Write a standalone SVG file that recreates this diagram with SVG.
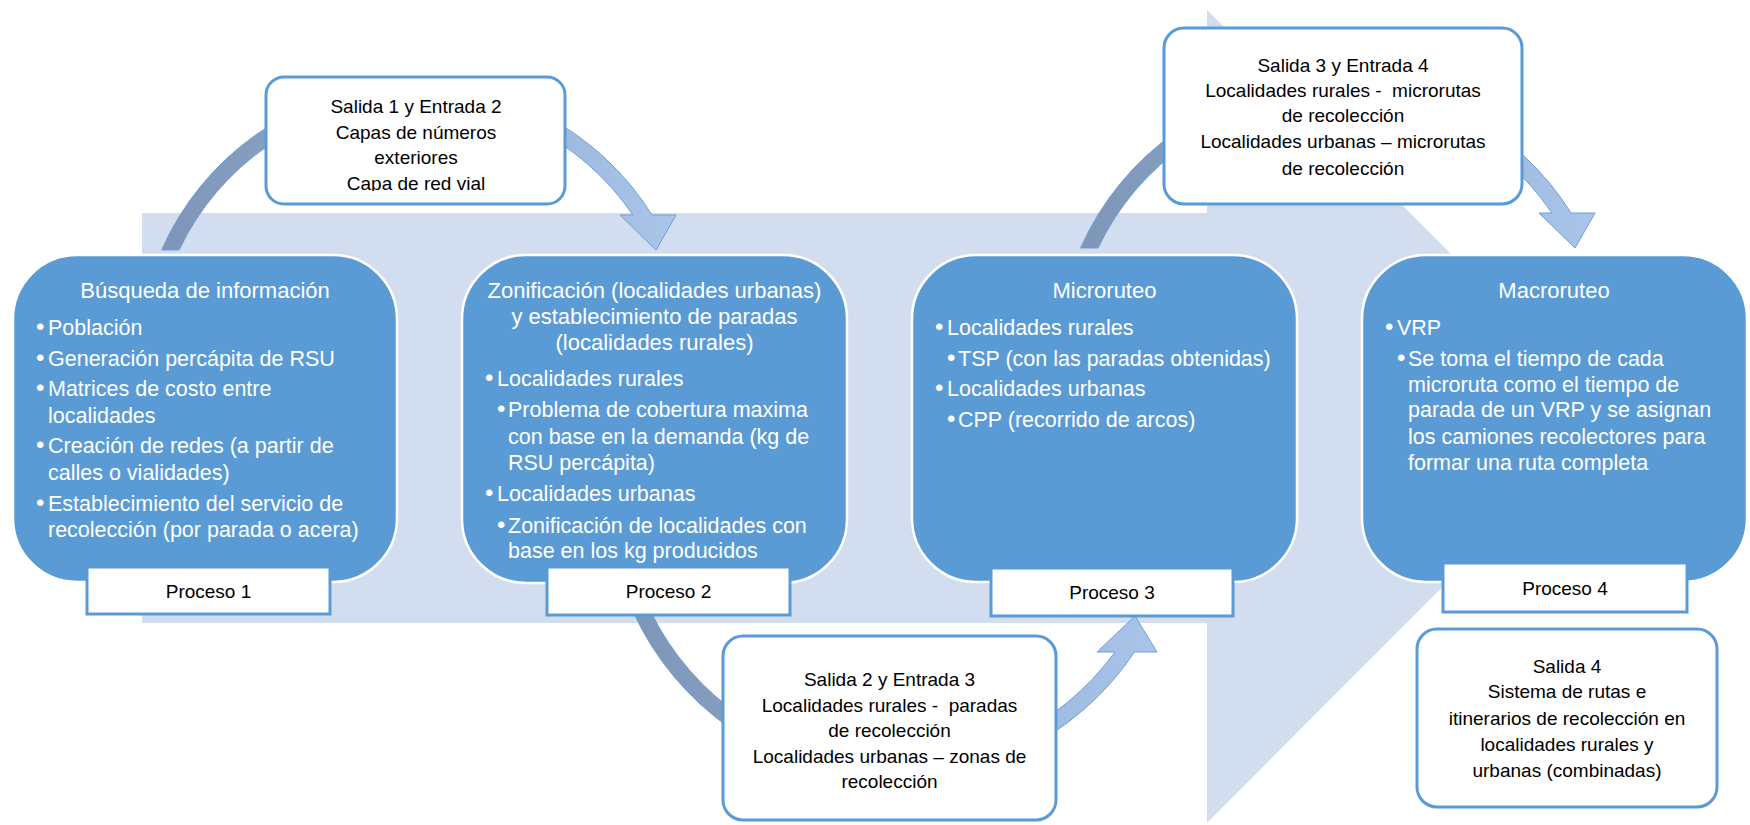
<svg xmlns="http://www.w3.org/2000/svg" width="1750" height="825" viewBox="0 0 1750 825">
<style>
.node{fill:#5B9BD5;stroke:#FFFFFF;stroke-width:2.5}
.lbl{fill:#FFFFFF;stroke:#5B9BD5;stroke-width:3}
.io{fill:#FFFFFF;stroke:#5B9BD5;stroke-width:3}
.arr{stroke:#6E9ED5;stroke-width:1}
text{font-family:"Liberation Sans",Arial,sans-serif}
.t{fill:#FFFFFF;font-size:21.5px}
.h{fill:#FFFFFF;font-size:22px;text-anchor:middle}
.p{fill:#000000;font-size:19px;text-anchor:middle}
.c{fill:#000000;font-size:19px;text-anchor:middle}
.b{font-size:24px}
</style>
<defs>
<linearGradient id="g1" gradientUnits="userSpaceOnUse" x1="160" y1="0" x2="680" y2="0">
<stop offset="0" stop-color="#7D95B6"/><stop offset="1" stop-color="#A9C5EA"/>
</linearGradient>
<linearGradient id="g2" gradientUnits="userSpaceOnUse" x1="630" y1="0" x2="1160" y2="0">
<stop offset="0" stop-color="#7D95B6"/><stop offset="1" stop-color="#A9C5EA"/>
</linearGradient>
<clipPath id="clipA"><rect x="266" y="77" width="299" height="114"/></clipPath>
</defs>

<polygon id="background-arrow" points="142,213 1207,213 1207,10 1613,416 1207,823 1207,623 142,623" fill="#D2DEEF"/>

<g id="connectors">
<path id="arrow-1-2" class="arr" fill="url(#g1)" d="M161.6,250 A278,278 0 0 1 652,215 L676,215 L656,250 L620,215 L632.9,215 A262,262 0 0 0 179.1,250 Z"/>
<path id="arrow-3-4" class="arr" fill="url(#g1)" transform="translate(919,-2)" d="M161.6,250 A278,278 0 0 1 652,215 L676,215 L656,250 L620,215 L632.9,215 A262,262 0 0 0 179.1,250 Z"/>
<path id="arrow-2-3" class="arr" fill="url(#g2)" d="M633.2,612 A288,288 0 0 0 1134.5,652 L1157,652 L1135,616 L1097,652 L1115,652 A272,272 0 0 1 650.9,612 Z"/>
</g>

<g id="proceso-1">
<rect class="node" x="13" y="255" width="384" height="327" rx="64"/>
<text class="h" x="205" y="298">Búsqueda de información</text>
<text class="t" x="36" y="335"><tspan class="b">•</tspan><tspan x="48">Población</tspan></text>
<text class="t" x="36" y="366"><tspan class="b">•</tspan><tspan x="48">Generación percápita de RSU</tspan></text>
<text class="t" x="36" y="396"><tspan class="b">•</tspan><tspan x="48">Matrices de costo entre</tspan></text>
<text class="t" x="48" y="423">localidades</text>
<text class="t" x="36" y="453"><tspan class="b">•</tspan><tspan x="48">Creación de redes (a partir de</tspan></text>
<text class="t" x="48" y="480">calles o vialidades)</text>
<text class="t" x="36" y="511"><tspan class="b">•</tspan><tspan x="48">Establecimiento del servicio de</tspan></text>
<text class="t" x="48" y="537">recolección (por parada o acera)</text>
<rect class="lbl" x="87" y="567" width="243" height="47"/>
<text class="p" x="208.5" y="598">Proceso 1</text>
</g>

<g id="proceso-2">
<rect class="node" x="462" y="255" width="385" height="328" rx="64"/>
<text class="h" x="654.5" y="298">Zonificación (localidades urbanas)</text>
<text class="h" x="654.5" y="324">y establecimiento de paradas</text>
<text class="h" x="654.5" y="350">(localidades rurales)</text>
<text class="t" x="485" y="386"><tspan class="b">•</tspan><tspan x="497">Localidades rurales</tspan></text>
<text class="t" x="497" y="417"><tspan class="b">•</tspan><tspan x="508">Problema de cobertura maxima</tspan></text>
<text class="t" x="508" y="444">con base en la demanda (kg de</text>
<text class="t" x="508" y="470">RSU percápita)</text>
<text class="t" x="485" y="501"><tspan class="b">•</tspan><tspan x="497">Localidades urbanas</tspan></text>
<text class="t" x="497" y="533"><tspan class="b">•</tspan><tspan x="508">Zonificación de localidades con</tspan></text>
<text class="t" x="508" y="558">base en los kg producidos</text>
<rect class="lbl" x="547" y="567" width="243" height="48"/>
<text class="p" x="668.5" y="598">Proceso 2</text>
</g>

<g id="proceso-3">
<rect class="node" x="912" y="255" width="385" height="327" rx="64"/>
<text class="h" x="1104.5" y="298">Microruteo</text>
<text class="t" x="935" y="335"><tspan class="b">•</tspan><tspan x="947">Localidades rurales</tspan></text>
<text class="t" x="947" y="366"><tspan class="b">•</tspan><tspan x="958">TSP (con las paradas obtenidas)</tspan></text>
<text class="t" x="935" y="396"><tspan class="b">•</tspan><tspan x="947">Localidades urbanas</tspan></text>
<text class="t" x="947" y="427"><tspan class="b">•</tspan><tspan x="958">CPP (recorrido de arcos)</tspan></text>
<rect class="lbl" x="991" y="568" width="242" height="48"/>
<text class="p" x="1112" y="599">Proceso 3</text>
</g>

<g id="proceso-4">
<rect class="node" x="1362" y="255" width="385" height="327" rx="64"/>
<text class="h" x="1554" y="298">Macroruteo</text>
<text class="t" x="1385" y="335"><tspan class="b">•</tspan><tspan x="1397">VRP</tspan></text>
<text class="t" x="1397" y="366"><tspan class="b">•</tspan><tspan x="1408">Se toma el tiempo de cada</tspan></text>
<text class="t" x="1408" y="392">microruta como el tiempo de</text>
<text class="t" x="1408" y="417">parada de un VRP y se asignan</text>
<text class="t" x="1408" y="444">los camiones recolectores para</text>
<text class="t" x="1408" y="470">formar una ruta completa</text>
<rect class="lbl" x="1443" y="563" width="244" height="49"/>
<text class="p" x="1565" y="595">Proceso 4</text>
</g>

<g id="salida-1-entrada-2">
<rect class="io" x="266" y="77" width="299" height="127" rx="18"/>
<g clip-path="url(#clipA)">
<text class="c" x="416" y="113">Salida 1 y Entrada 2</text>
<text class="c" x="416" y="139">Capas de números</text>
<text class="c" x="416" y="164">exteriores</text>
<text class="c" x="416" y="190">Capa de red vial</text>
</g>
</g>

<g id="salida-3-entrada-4">
<rect class="io" x="1164" y="28" width="358" height="176" rx="20"/>
<text class="c" x="1343" y="72">Salida 3 y Entrada 4</text>
<text class="c" x="1343" y="97" xml:space="preserve">Localidades rurales -  microrutas</text>
<text class="c" x="1343" y="122">de recolección</text>
<text class="c" x="1343" y="148">Localidades urbanas – microrutas</text>
<text class="c" x="1343" y="175">de recolección</text>
</g>

<g id="salida-2-entrada-3">
<rect class="io" x="723" y="636" width="333" height="184" rx="20"/>
<text class="c" x="889.5" y="686">Salida 2 y Entrada 3</text>
<text class="c" x="889.5" y="712" xml:space="preserve">Localidades rurales -  paradas</text>
<text class="c" x="889.5" y="737">de recolección</text>
<text class="c" x="889.5" y="763">Localidades urbanas – zonas de</text>
<text class="c" x="889.5" y="788">recolección</text>
</g>

<g id="salida-4">
<rect class="io" x="1417" y="629" width="300" height="178" rx="20"/>
<text class="c" x="1567" y="673">Salida 4</text>
<text class="c" x="1567" y="698">Sistema de rutas e</text>
<text class="c" x="1567" y="725">itinerarios de recolección en</text>
<text class="c" x="1567" y="751">localidades rurales y</text>
<text class="c" x="1567" y="777">urbanas (combinadas)</text>
</g>
</svg>
